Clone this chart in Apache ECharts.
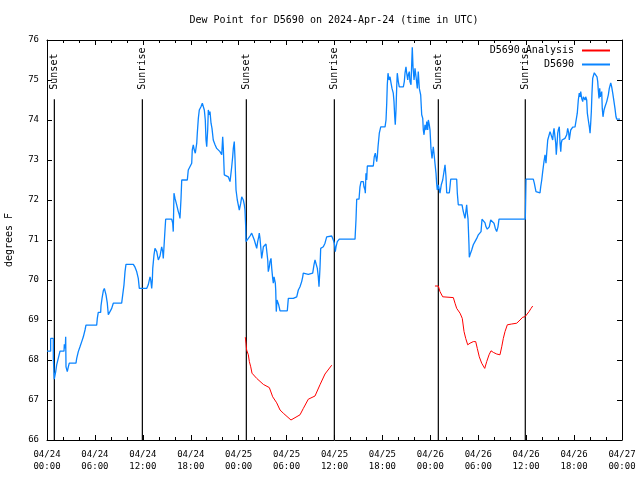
<!DOCTYPE html>
<html><head><meta charset="utf-8">
<script src="https://cdn.jsdelivr.net/npm/echarts@6/dist/echarts.min.js"></script>
<style>html,body{margin:0;padding:0;background:#fff}#c{width:640px;height:480px}</style>
</head><body><div id="c"></div>
<script>
// x values are hours since 2024-04-24 00:00 UTC, y values are dew point (deg F)
const xTickLabels = ['04/24\n00:00','04/24\n06:00','04/24\n12:00','04/24\n18:00','04/25\n00:00','04/25\n06:00','04/25\n12:00','04/25\n18:00','04/26\n00:00','04/26\n06:00','04/26\n12:00','04/26\n18:00','04/27\n00:00'];
const yTickLabels = ['66','67','68','69','70','71','72','73','74','75','76'];
const sunsetHours = [0.92, 24.96, 49.0];
const sunriseHours = [11.94, 35.98, 59.89];
const eventLineTop = 74.52;

const obsD5690 = [
[0,68.22],[0.46,68.22],[0.46,68.54],[0.79,68.54],[0.79,68.06],[0.91,67.52],[1.09,67.71],[1.21,67.88],[1.41,68.04],[1.63,68.22],
[2.13,68.22],[2.17,68.39],[2.29,68.29],[2.34,68.58],[2.38,67.83],[2.54,67.71],[2.67,67.83],[2.79,67.92],[3.63,67.92],[3.72,68.04],
[3.92,68.21],[4.13,68.33],[4.35,68.46],[4.55,68.58],[4.76,68.75],[4.88,68.87],[6.22,68.87],[6.30,69.04],[6.42,69.19],[6.72,69.19],
[6.76,69.35],[6.89,69.54],[7.05,69.73],[7.18,69.79],[7.30,69.79],[7.39,69.63],[7.55,69.42],[7.68,69.13],[7.89,69.17],[8.10,69.29],
[8.30,69.42],[9.35,69.42],[9.48,69.63],[9.64,69.88],[9.77,70.21],[9.89,70.39],[10.81,70.39],[11.02,70.32],[11.23,70.21],[11.43,70.04],
[11.56,69.79],[12.48,69.79],[12.68,69.88],[12.90,70.08],[12.99,70.0],[13.11,69.79],[13.19,70.0],[13.24,70.29],[13.40,70.63],[13.52,70.79],
[13.74,70.71],[13.94,70.5],[14.15,70.6],[14.36,70.83],[14.49,70.71],[14.56,70.54],[14.65,70.83],[14.78,71.27],[14.86,71.52],[15.61,71.52],
[15.74,71.42],[15.81,71.21],[15.90,72.17],[16.03,72.04],[16.24,71.88],[16.44,71.71],[16.57,71.63],[16.65,71.54],[16.78,72.03],[16.87,72.5],
[17.57,72.5],[17.69,72.75],[17.90,72.79],[18.12,72.92],[18.19,73.25],[18.32,73.38],[18.44,73.25],[18.57,73.17],[18.75,73.42],[18.82,73.67],
[18.95,74.04],[19.07,74.25],[19.28,74.33],[19.45,74.42],[19.57,74.46],[19.70,74.25],[19.82,74.0],[19.91,73.5],[20.00,73.33],[20.12,73.75],
[20.20,74.25],[20.32,74.13],[20.41,74.21],[20.54,73.92],[20.66,73.79],[20.82,73.5],[21.04,73.38],[21.25,73.29],[21.66,73.21],[21.88,73.13],
[22.00,73.58],[22.08,73.29],[22.20,72.63],[22.70,72.58],[22.92,72.46],[23.13,72.83],[23.25,73.08],[23.33,73.29],[23.45,73.46],[23.54,73.04],
[23.67,72.25],[23.83,72.0],[23.95,71.88],[24.08,71.75],[24.26,71.92],[24.38,72.08],[24.46,72.13],[24.58,72.0],[24.71,71.88],[24.79,71.75],
[24.88,71.33],[24.92,70.96],
[25.01,70.96],[25.21,71.04],[25.42,71.1],[25.63,71.17],[25.83,71.17],[25.96,71.0],[26.13,70.88],[26.26,70.79],[26.38,70.96],[26.51,71.08],
[26.58,71.17],[26.67,71.04],[26.76,70.83],[26.88,70.54],[27.01,70.71],[27.09,70.83],[27.21,70.88],[27.42,70.9],[27.59,70.9],[27.64,70.5],
[27.71,70.21],[27.84,70.33],[27.92,70.46],[28.05,70.54],[28.14,70.29],[28.26,70.04],[28.34,69.92],[28.43,70.08],[28.51,70.13],[28.59,69.92],
[28.64,69.75],[28.71,69.21],[28.80,69.5],[28.89,69.46],[29.01,69.38],[29.18,69.23],[30.09,69.23],[30.22,69.54],[30.84,69.54],[31.27,69.58],
[31.47,69.75],[31.68,69.83],[31.89,69.96],[32.02,70.08],[32.09,70.17],[32.72,70.14],[33.27,70.17],[33.43,70.38],[33.56,70.5],[33.77,70.46],
[33.85,70.29],[33.97,70.08],[34.06,69.83],[34.10,69.79],[34.18,70.29],[34.27,70.79],[34.43,70.79],[34.60,70.83],[34.81,70.92],[35.02,71.08],
[35.22,71.13],[35.65,71.1],[35.85,71.0],[35.98,70.92],[36.10,70.71],[36.19,70.83],[36.35,70.96],[36.60,71.02],[38.57,71.02],[38.69,71.5],
[38.78,72.02],[39.07,72.02],[39.19,72.33],[39.32,72.46],[39.61,72.46],[39.69,72.33],[39.82,72.25],[39.86,72.17],[39.94,72.67],[40.03,72.5],
[40.11,72.85],[40.86,72.85],[40.98,73.08],[41.11,73.17],[41.28,72.96],[41.36,73.08],[41.45,73.33],[41.61,73.67],[41.79,73.83],[42.33,73.83],
[42.45,74.0],[42.54,74.42],[42.61,74.88],[42.70,75.17],[42.83,75.0],[42.95,75.08],[43.08,74.92],[43.20,74.79],[43.36,74.67],[43.45,74.46],
[43.54,74.08],[43.61,73.88],[43.70,74.25],[43.79,74.83],[43.86,75.17],[43.99,74.96],[44.11,74.83],[44.62,74.83],[44.74,74.96],[44.83,75.17],
[44.95,75.33],[45.04,75.17],[45.17,75.0],[45.24,75.13],[45.37,75.21],[45.45,74.96],[45.58,74.88],[45.67,75.42],[45.74,75.82],[45.83,75.33],
[45.96,75.0],[46.08,75.29],[46.21,75.08],[46.37,74.79],[46.49,75.21],[46.62,74.79],[46.79,74.63],[46.92,74.13],[47.05,74.04],[47.12,73.75],
[47.21,73.63],[47.33,73.88],[47.46,73.75],[47.55,73.96],[47.67,73.75],[47.75,74.0],[47.87,73.88],[47.96,73.75],[48.08,73.29],[48.21,73.04],
[48.33,73.04],[48.37,73.33],[48.46,73.17],[48.58,72.92],[48.71,72.67],[48.79,72.42],[48.87,72.25],[49.00,72.38],[49.12,72.33],[49.21,72.17],
[49.30,72.15],[49.37,72.38],[49.55,72.5],[49.84,72.88],[49.96,72.58],[50.05,72.18],[50.38,72.18],[50.46,72.33],[50.55,72.52],[51.30,72.52],
[51.38,72.17],[51.50,71.88],[51.97,71.88],[52.05,71.79],[52.13,71.71],[52.25,71.67],[52.34,71.54],[52.47,71.75],[52.55,71.88],[52.63,71.67],
[52.72,71.52],[52.81,71.52],[52.84,70.88],[52.88,70.57],[52.97,70.63],[53.18,70.75],[53.38,70.88],[53.59,70.96],[53.81,71.04],[54.01,71.13],
[54.22,71.18],[54.35,71.21],[54.47,71.52],[54.72,71.52],[54.85,71.43],[54.97,71.33],[55.13,71.27],[55.26,71.25],[55.38,71.33],[55.56,71.5],
[55.69,71.52],[55.81,71.52],[55.97,71.42],[56.14,71.29],[56.31,71.21],[56.47,71.33],[56.60,71.52],[59.89,71.52],[59.94,72.04],[59.98,72.52],
[60.89,72.52],[61.02,72.42],[61.11,72.33],[61.23,72.21],[61.40,72.18],[61.73,72.18],[61.82,72.33],[61.95,72.5],[62.07,72.71],[62.23,72.96],
[62.36,73.13],[62.48,72.92],[62.57,73.17],[62.70,73.5],[62.77,73.54],[62.90,73.5],[62.99,73.71],[63.11,73.75],[63.20,73.58],[63.32,73.5],
[63.40,73.67],[63.49,73.79],[63.61,73.83],[63.70,73.42],[63.77,73.13],[63.86,73.38],[63.95,73.67],[64.02,73.75],[64.15,73.83],[64.24,73.42],
[64.33,73.21],[64.40,73.42],[64.49,73.5],[64.65,73.52],[64.86,73.54],[64.99,73.58],[65.08,73.63],[65.20,73.79],[65.33,73.67],[65.40,73.5],
[65.49,73.63],[65.58,73.75],[65.70,73.79],[65.83,73.82],[66.12,73.83],[66.33,73.83],[66.40,74.17],[66.53,74.5],[66.65,74.67],[66.74,74.58],
[66.83,74.71],[66.95,74.54],[67.08,74.46],[67.16,74.58],[67.28,74.63],[67.37,74.5],[67.45,74.58],[67.58,74.5],[67.66,74.17],[67.78,74.0],
[67.91,73.83],[68.00,73.67],[68.08,73.92],[68.16,74.21],[68.24,74.67],[68.33,75.04],[68.41,75.08],[68.53,75.18],[68.66,75.21],[68.78,75.23],
[68.87,75.08],[68.96,74.96],[69.03,74.75],[69.12,74.54],[69.21,74.79],[69.28,74.58],[69.37,74.54],[69.46,74.71],[69.53,74.29],[69.62,74.08],
[69.75,74.25],[69.87,74.33],[70.09,74.46],[70.29,74.63],[70.41,74.79],[70.59,74.93],[70.71,74.83],[70.84,74.67],[70.91,74.58],[71.12,74.29],
[71.25,74.08],[71.34,74.02],[71.75,74.02]
];

const analysisRun1 = [
[24.83,68.57],[24.92,68.42],[25.00,68.25],[25.21,68.13],[25.34,67.96],[25.51,67.83],[25.67,67.67],[26.26,67.54],[27.09,67.39],[27.84,67.31],
[28.26,67.08],[28.76,66.93],[29.18,66.75],[29.59,66.67],[30.55,66.5],[31.68,66.63],[32.10,66.79],[32.72,67.02],[33.56,67.1],[34.18,67.38],
[34.81,67.65],[35.65,67.87]
];
const analysisRun2 = [
[48.58,69.85],[49.00,69.85],[49.21,69.71],[49.55,69.58],[50.88,69.56],[51.09,69.42],[51.30,69.29],[51.72,69.17],[52.00,69.04],[52.22,68.71],
[52.43,68.54],[52.68,68.38],[52.97,68.42],[53.38,68.46],[53.68,68.46],[53.88,68.29],[54.13,68.08],[54.43,67.92],[54.81,67.79],[55.06,67.96],
[55.35,68.13],[55.60,68.23],[55.89,68.19],[56.31,68.15],[56.72,68.13],[56.94,68.33],[57.14,68.54],[57.35,68.71],[57.64,68.88],[58.19,68.9],
[58.82,68.92],[59.23,69.0],[59.57,69.07],[59.85,69.08],[60.07,69.13],[60.36,69.21],[60.61,69.29],[60.82,69.35]
];

const FONT = '"DejaVu Sans Mono", "Liberation Mono", monospace';
const BLUE = '#0a84ff', RED = '#ff0000';

function eventSeries(h, name) {
  return {
    type: 'line', name: name, symbol: 'circle', symbolSize: 1, showSymbol: true, silent: true, z: 1,
    itemStyle: { color: 'rgba(0,0,0,0)', borderWidth: 0 },
    lineStyle: { color: '#000', width: 1.2 },
    label: { show: false },
    data: [
      { value: [h, 66] },
      { value: [h, eventLineTop], label: { show: true, formatter: name, position: 'top', distance: 7,
          rotate: 90, align: 'left', verticalAlign: 'middle', offset: [2, 0], color: '#000', fontFamily: FONT, fontSize: 10 } }
    ]
  };
}

const axisCommon = {
  type: 'value', min: 0, max: 72, interval: 6,
  axisLine: { show: true, onZero: false, lineStyle: { color: '#000', width: 1 } },
  axisTick: { show: true, inside: true, length: 5, lineStyle: { color: '#000' } },
  minorTick: { show: true, splitNumber: 3, length: 3, lineStyle: { color: '#000' } },
  splitLine: { show: false }
};
const yCommon = {
  type: 'value', min: 66, max: 76, interval: 1,
  axisLine: { show: true, onZero: false, lineStyle: { color: '#000', width: 1 } },
  axisTick: { show: true, inside: true, length: 5, lineStyle: { color: '#000' } },
  splitLine: { show: false }
};

const series = [];
sunsetHours.forEach(h => series.push(eventSeries(h, 'Sunset')));
sunriseHours.forEach(h => series.push(eventSeries(h, 'Sunrise')));
series.push({ type: 'line', name: 'D5690', data: obsD5690, symbol: 'none', z: 3,
  color: BLUE, lineStyle: { color: BLUE, width: 1.3 } });
series.push({ type: 'line', name: 'D5690 Analysis', data: analysisRun1, symbol: 'none', z: 3,
  color: RED, lineStyle: { color: RED, width: 1 } });
series.push({ type: 'line', name: 'D5690 Analysis', data: analysisRun2, symbol: 'none', z: 3,
  color: RED, lineStyle: { color: RED, width: 1 } });

const chart = echarts.init(document.getElementById('c'), null, { renderer: 'canvas' });
chart.setOption({
  animation: false,
  backgroundColor: '#fff',
  grid: { left: 47, right: 18, top: 40, bottom: 40, containLabel: false, outerBoundsMode: 'none' },
  graphic: [{ type: 'text', x: 334, y: 20, style: { text: 'Dew Point for D5690 on 2024-Apr-24 (time in UTC)',
    font: '10px ' + FONT, fill: '#000', textAlign: 'center', textVerticalAlign: 'middle', align: 'center', verticalAlign: 'middle' } }],
  legend: { data: ['D5690 Analysis', 'D5690'], orient: 'vertical', right: 30, top: 45, align: 'right',
    icon: 'rect', itemWidth: 28, itemHeight: 2, itemGap: 3, padding: 0,
    textStyle: { fontFamily: FONT, fontSize: 10, color: '#000', lineHeight: 11, padding: [0, 3, 0, 0] } },
  xAxis: [
    Object.assign({}, axisCommon, { position: 'bottom',
      axisLabel: { show: true, margin: 9, color: '#000', fontFamily: FONT, fontSize: 9, lineHeight: 12,
        formatter: v => xTickLabels[Math.round(v / 6)] } }),
    Object.assign({}, axisCommon, { position: 'top', axisLabel: { show: false } })
  ],
  yAxis: [
    Object.assign({}, yCommon, { position: 'left', name: 'degrees F', nameLocation: 'middle', nameRotate: 90, nameGap: 33,
      nameTextStyle: { fontFamily: FONT, fontSize: 10, color: '#000' },
      axisLabel: { show: true, margin: 8, color: '#000', fontFamily: FONT, fontSize: 9,
        formatter: v => yTickLabels[Math.round(v - 66)] } }),
    Object.assign({}, yCommon, { position: 'right', axisLabel: { show: false } })
  ],
  series: series
});
</script></body></html>
